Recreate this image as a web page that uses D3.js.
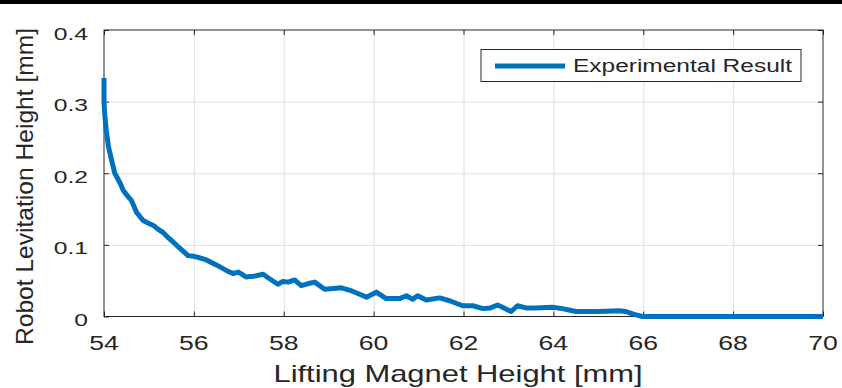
<!DOCTYPE html>
<html>
<head>
<meta charset="utf-8">
<script src="https://cdn.jsdelivr.net/npm/d3@7"></script>
<style>
  body { margin: 0; background: #fff; }
  svg { display: block; font-family: "Liberation Sans", Arial, Helvetica, sans-serif; }
</style>
</head>
<body>
<div id="chart"></div>
<script>
// data
var magnetHeight = [54.0, 54.0, 54.02, 54.05, 54.1, 54.17, 54.24, 54.36, 54.43, 54.54,
    54.61, 54.73, 54.87, 55.0, 55.1, 55.2, 55.32, 55.43, 55.54, 55.64,
    55.73, 55.87, 56.0, 56.13, 56.28, 56.5, 56.73, 56.87, 56.99, 57.17,
    57.24, 57.32, 57.54, 57.7, 57.87, 57.98, 58.1, 58.24, 58.39, 58.55,
    58.69, 58.91, 59.1, 59.28, 59.5, 59.69, 59.84, 60.06, 60.28, 60.58,
    60.73, 60.87, 60.98, 61.17, 61.47, 61.69, 61.98, 62.21, 62.43, 62.6,
    62.76, 62.9, 63.06, 63.2, 63.39, 63.6, 63.98, 64.2, 64.5, 65.0,
    65.47, 65.6, 65.8, 65.98, 66.5, 67, 68, 69, 70];
var levitation = [0.333, 0.30, 0.28, 0.26, 0.237, 0.218, 0.2, 0.186, 0.176, 0.167,
    0.162, 0.145, 0.134, 0.13, 0.127, 0.122, 0.117, 0.11, 0.104, 0.098,
    0.093, 0.085, 0.084, 0.082, 0.079, 0.072, 0.064, 0.060, 0.062, 0.055,
    0.056, 0.056, 0.059, 0.052, 0.045, 0.049, 0.048, 0.051, 0.043, 0.046,
    0.048, 0.038, 0.039, 0.040, 0.036, 0.031, 0.027, 0.034, 0.025, 0.025,
    0.029, 0.024, 0.029, 0.023, 0.026, 0.022, 0.015, 0.015, 0.011, 0.012,
    0.016, 0.012, 0.007, 0.015, 0.012, 0.012, 0.013, 0.011, 0.007, 0.007,
    0.008, 0.007, 0.003, 0, 0, 0, 0, 0, 0];
var xTicks = [54, 56, 58, 60, 62, 64, 66, 68, 70];
var yTicks = [0, 0.1, 0.2, 0.3, 0.4];
var seriesName = 'Experimental Result';

// plot box (pixel edges of the axes)
var box = { left: 104, right: 823, top: 30, bottom: 316.5 },
    W = 842,
    H = 388,
    ink = '#262626';

var svg = d3.select('#chart').append('svg')
    .attr('width', W)
    .attr('height', H);

svg.append('rect').attr('width', W).attr('height', H).attr('fill', '#fff');
// black strip along the top edge
svg.append('rect').attr('width', W).attr('height', 4).attr('fill', '#000');

var x = d3.scaleLinear().domain([54, 70]).range([box.left, box.right]);
var y = d3.scaleLinear().domain([0, 0.4]).range([box.bottom, box.top]);

// gridlines
svg.append('g')
    .attr('transform', 'translate(0,' + box.bottom + ')')
    .call(d3.axisBottom(x).tickValues(xTicks.slice(1, -1)).tickSize(-(box.bottom - box.top)).tickFormat(''))
    .call(function(g) { g.select('.domain').remove(); })
    .selectAll('line').attr('stroke', '#e0e0e0');
svg.append('g')
    .attr('transform', 'translate(' + box.left + ',0)')
    .call(d3.axisLeft(y).tickValues(yTicks.slice(1, -1)).tickSize(-(box.right - box.left)).tickFormat(''))
    .call(function(g) { g.select('.domain').remove(); })
    .selectAll('line').attr('stroke', '#e0e0e0');

// inward ticks on all four sides
function ticks(axis, tx, ty) {
    svg.append('g')
        .attr('transform', 'translate(' + tx + ',' + ty + ')')
        .call(axis.tickSizeInner(-5).tickSizeOuter(0).tickFormat(''))
        .call(function(g) { g.select('.domain').remove(); })
        .selectAll('line').attr('stroke', ink);
}
ticks(d3.axisBottom(x).tickValues(xTicks), 0, box.bottom);
ticks(d3.axisTop(x).tickValues(xTicks), 0, box.top);
ticks(d3.axisLeft(y).tickValues(yTicks), box.left, 0);
ticks(d3.axisRight(y).tickValues(yTicks), box.right, 0);

// tick labels (figure is stretched sideways, so widen the glyphs)
function stretch(sel, k) {
    sel.each(function() {
        var w = this.getComputedTextLength();
        d3.select(this).attr('textLength', w * k).attr('lengthAdjust', 'spacingAndGlyphs');
    });
}

svg.append('g').selectAll('text')
    .data(xTicks)
    .enter()
    .append('text')
    .attr('x', function(d) { return x(d) })
    .attr('y', 350)
    .attr('text-anchor', 'middle')
    .attr('fill', ink)
    .style('font-size', '20px')
    .text(function(d) { return d })
    .call(stretch, 1.33);

svg.append('g').selectAll('text')
    .data(yTicks)
    .enter()
    .append('text')
    .attr('x', 88)
    .attr('y', function(d) { return y(d) + 9.5 })
    .attr('text-anchor', 'end')
    .attr('fill', ink)
    .style('font-size', '17px')
    .text(function(d) { return d })
    .call(stretch, 1.45);

// axis box
svg.append('rect')
    .attr('x', box.left).attr('y', box.top)
    .attr('width', box.right - box.left).attr('height', box.bottom - box.top)
    .attr('fill', 'none').attr('stroke', ink).attr('stroke-width', 1);

// the curve
var line = d3.line()
    .x(function(d, i) { return x(magnetHeight[i]) })
    .y(function(d) { return y(d) });

svg.append('path')
    .datum(levitation)
    .attr('d', line)
    .attr('fill', 'none')
    .attr('stroke', '#0072bd')
    .attr('stroke-width', 5)
    .attr('stroke-linejoin', 'round')
    .attr('stroke-linecap', 'butt');

// axis titles
svg.append('text')
    .attr('x', 458)
    .attr('y', 382)
    .attr('text-anchor', 'middle')
    .attr('fill', ink)
    .style('font-size', '24px')
    .attr('textLength', 369)
    .attr('lengthAdjust', 'spacingAndGlyphs')
    .text('Lifting Magnet Height [mm]');

svg.append('text')
    .attr('transform', 'translate(33,186.5) rotate(-90)')
    .attr('text-anchor', 'middle')
    .attr('fill', ink)
    .style('font-size', '24px')
    .attr('textLength', 317)
    .attr('lengthAdjust', 'spacingAndGlyphs')
    .text('Robot Levitation Height [mm]');

// legend
var legend = svg.append('g');
legend.append('rect')
    .attr('x', 481).attr('y', 49.5)
    .attr('width', 320).attr('height', 32)
    .attr('fill', '#fff').attr('stroke', ink).attr('stroke-width', 1);
legend.append('line')
    .attr('x1', 495).attr('x2', 565)
    .attr('y1', 66).attr('y2', 66)
    .attr('stroke', '#0072bd').attr('stroke-width', 5);
legend.append('text')
    .attr('x', 573)
    .attr('y', 72)
    .attr('fill', ink)
    .style('font-size', '18px')
    .attr('textLength', 219)
    .attr('lengthAdjust', 'spacingAndGlyphs')
    .text(seriesName);
</script>
</body>
</html>
